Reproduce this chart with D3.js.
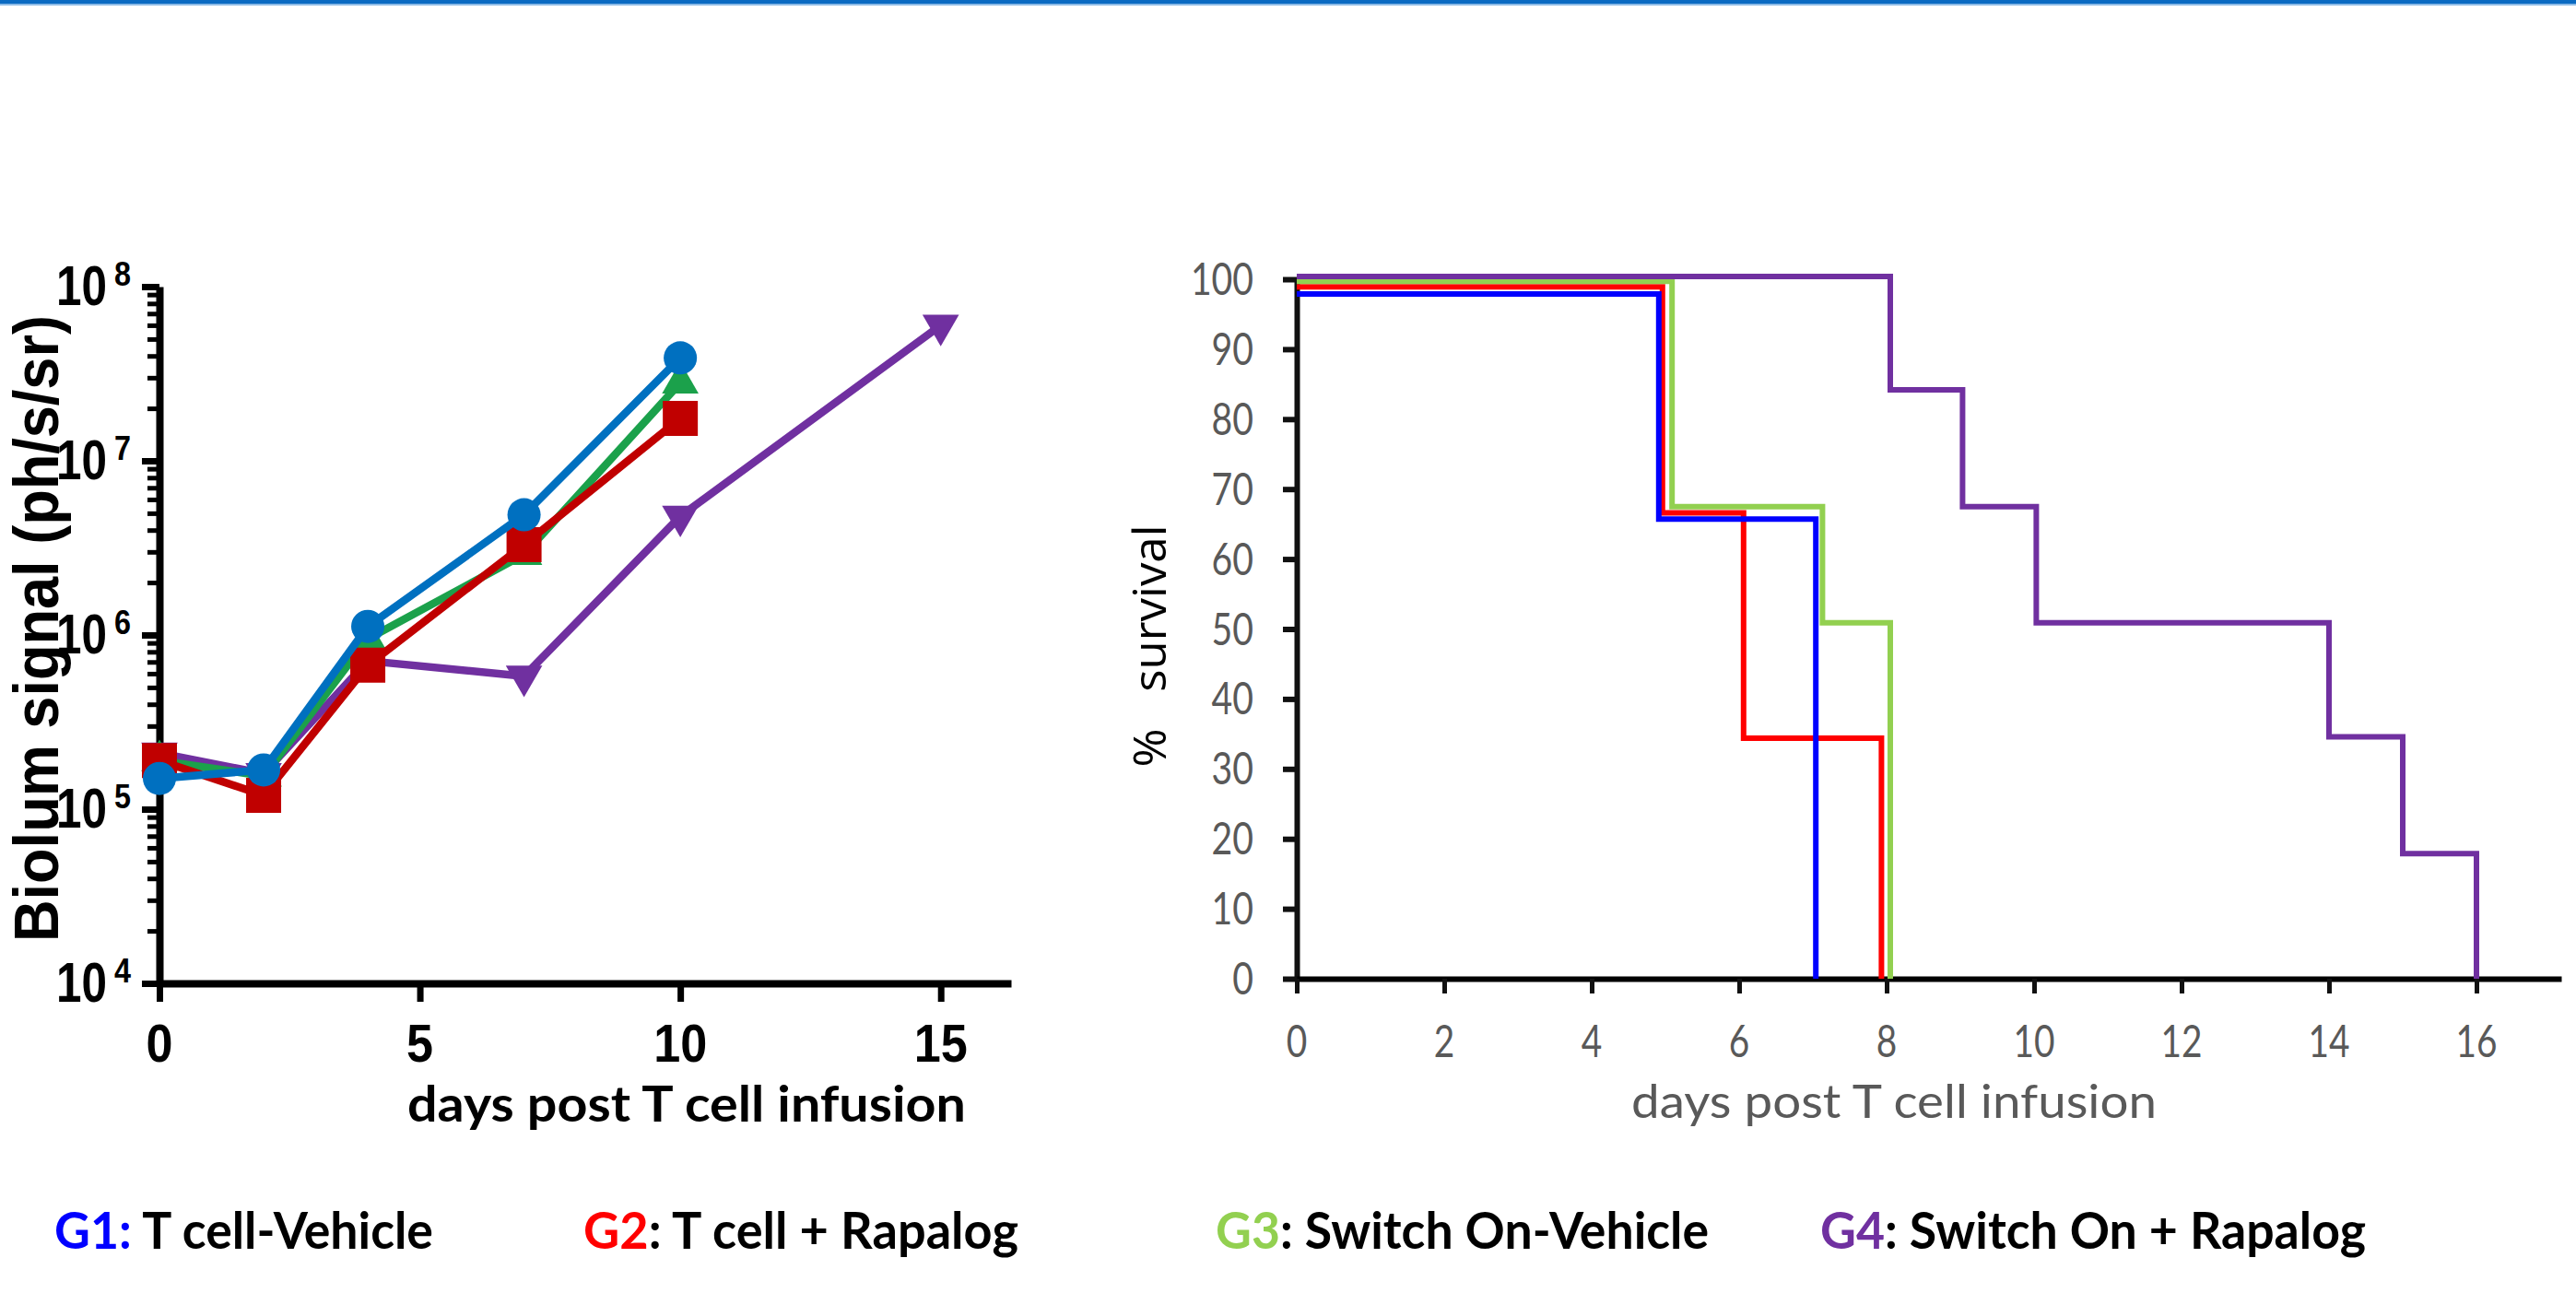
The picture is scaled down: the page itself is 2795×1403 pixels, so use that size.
<!DOCTYPE html>
<html><head><meta charset="utf-8">
<script src="https://cdn.jsdelivr.net/npm/d3@7"></script>
<style>html,body{margin:0;padding:0;background:#fff;} svg{display:block}</style>
</head><body>
<svg id="c" width="2795" height="1403"></svg>
<script>
// ---------- DATA ----------
// Left panel: bioluminescence (ph/s/sr) vs days
const biolumDays   = [0, 2, 4, 7, 10];
const g4BiolumDays = [0, 2, 4, 7, 10, 15];
const g1Biolum = [1.5e5, 1.68e5, 1.12e6, 4.9e6, 3.9e7];
const g2Biolum = [1.9e5, 1.2e5, 6.7e5, 3.3e6, 1.75e7];
const g3Biolum = [1.9e5, 1.55e5, 9.5e5, 2.9e6, 2.8e7];
const g4Biolum = [2.1e5, 1.6e5, 7.1e5, 5.8e5, 4.8e6, 6.0e7];
const biolumXTicks = [0, 5, 10, 15];
const biolumYMajor = [1e4, 1e5, 1e6, 1e7, 1e8];

// Right panel: % survival step curves (event day, survival after)
const g1SurvDays = [0, 4.91, 7.04];
const g1Surv     = [97.9, 65.7, 0];
const g2SurvDays = [0, 4.96, 6.06, 7.93];
const g2Surv     = [98.9, 66.6, 34.4, 0];
const g3SurvDays = [0, 5.09, 7.13, 8.05];
const g3Surv     = [99.7, 67.5, 50.9, 0];
const g4SurvDays = [0, 8.05, 9.03, 10.03, 14.0, 15.0, 16.0];
const g4Surv     = [100.4, 84.2, 67.5, 50.9, 34.6, 17.9, 0];
const survXTicks = [0, 2, 4, 6, 8, 10, 12, 14, 16];
const survYTicks = [0, 10, 20, 30, 40, 50, 60, 70, 80, 90, 100];

// Legend
const legendIds   = ["G1:", "G2", "G3", "G4"];
const legendTexts = [" T cell-Vehicle", ": T cell + Rapalog", ": Switch On-Vehicle", ": Switch On + Rapalog"];

// ---------- STYLE / LAYOUT ----------
const leftColors  = {g1:"#0070C0", g2:"#C00000", g3:"#1BA14B", g4:"#7030A0"};
const rightColors = {g1:"#0000FF", g2:"#FF0000", g3:"#92D050", g4:"#7030A0"};
const legendColors = ["#0000FF", "#FF0000", "#92D050", "#7030A0"];
const legendX = [59, 633, 1319, 1975];
const legendW = [411, 472, 535, 592];

const svg = d3.select("#c");

// top rule
svg.append("rect").attr("x",0).attr("y",0).attr("width",2795).attr("height",4).attr("fill","#0A6AC2");
svg.append("rect").attr("x",0).attr("y",4).attr("width",2795).attr("height",2).attr("fill","#8DBBE6");

// ================= LEFT PANEL =================
const arial = "'Liberation Sans', Arial, sans-serif";
const xL = d3.scaleLinear().domain([0, 16.35]).range([173, 1097]);
const yL = d3.scaleLog().domain([1e4, 1e8]).range([1067, 311]);

const gyL = svg.append("g").attr("transform","translate(173,0)")
  .call(d3.axisLeft(yL).tickValues(yL.ticks()).tickFormat("").tickSizeOuter(0));
gyL.select(".domain").attr("stroke","#000").attr("stroke-width",8);
gyL.selectAll(".tick line").each(function(d){
  const major = biolumYMajor.some(m => Math.abs(m - d) / m < 1e-9);
  d3.select(this).attr("stroke","#000").attr("x2", major ? -19 : -13).attr("stroke-width", major ? 7 : 5);
});

const gxL = svg.append("g").attr("transform","translate(0,1067)")
  .call(d3.axisBottom(xL).tickValues(biolumXTicks).tickFormat("").tickSize(20).tickSizeOuter(0));
gxL.select(".domain").attr("stroke","#000").attr("stroke-width",8);
gxL.selectAll(".tick line").attr("stroke","#000").attr("stroke-width",7);

// y tick labels 10^n
const yLab = svg.append("g").attr("font-family", arial).attr("font-weight","bold").attr("fill","#000");
biolumYMajor.forEach(v => {
  const yy = yL(v);
  yLab.append("text").attr("x",116).attr("y",yy+20).attr("text-anchor","end")
    .attr("font-size",61).attr("textLength",55).attr("lengthAdjust","spacingAndGlyphs").text("10");
  yLab.append("text").attr("x",124).attr("y",yy-1).attr("text-anchor","start")
    .attr("font-size",37).attr("textLength",18).attr("lengthAdjust","spacingAndGlyphs").text(String(Math.round(Math.log10(v))));
});
// x tick labels
biolumXTicks.forEach(v => {
  const s = String(v);
  yLab.append("text").attr("x",xL(v)).attr("y",1152).attr("text-anchor","middle")
    .attr("font-size",58).attr("textLength",29*s.length).attr("lengthAdjust","spacingAndGlyphs").text(s);
});
// axis titles
svg.append("text").attr("transform","translate(63,682) rotate(-90)").attr("text-anchor","middle")
  .attr("font-family",arial).attr("font-weight","bold").attr("font-size",68)
  .attr("textLength",680).attr("lengthAdjust","spacingAndGlyphs").text("Biolum signal (ph/s/sr)");
svg.append("text").attr("x",442).attr("y",1217)
  .attr("font-family","Lato, 'Open Sans', sans-serif").attr("font-weight","bold").attr("font-size",54)
  .attr("textLength",606).attr("lengthAdjust","spacingAndGlyphs").text("days post T cell infusion");

// series
const lineL = d3.line().x(d => xL(d[0])).y(d => yL(d[1]));
const seriesL = [
  {days:g4BiolumDays, vals:g4Biolum, color:leftColors.g4, sym:d3.symbolTriangle, size:680, rot:180},
  {days:biolumDays,   vals:g3Biolum, color:leftColors.g3, sym:d3.symbolTriangle, size:680, rot:0},
  {days:biolumDays,   vals:g2Biolum, color:leftColors.g2, sym:d3.symbolSquare,   size:1444, rot:0},
  {days:biolumDays,   vals:g1Biolum, color:leftColors.g1, sym:d3.symbolCircle,   size:1020, rot:0}
];
seriesL.forEach(s => {
  const pts = s.days.map((d,i) => [d, s.vals[i]]);
  const g = svg.append("g");
  g.append("path").attr("d", lineL(pts)).attr("fill","none").attr("stroke",s.color)
    .attr("stroke-width",8.5).attr("stroke-linejoin","round");
  g.selectAll("path.m").data(pts).enter().append("path").attr("class","m")
    .attr("d", d3.symbol(s.sym, s.size))
    .attr("transform", d => `translate(${xL(d[0])},${yL(d[1])}) rotate(${s.rot})`)
    .attr("fill", s.color);
});

// ================= RIGHT PANEL =================
const cal = "Lato, 'Open Sans', sans-serif";
const xR = d3.scaleLinear().domain([0, 17.15]).range([1407, 2779]);
const yR = d3.scaleLinear().domain([0, 100]).range([1062, 303]);

const gyR = svg.append("g").attr("transform","translate(1407,0)")
  .call(d3.axisLeft(yR).tickValues(survYTicks).tickFormat("").tickSize(15).tickSizeOuter(0));
gyR.select(".domain").attr("stroke","#111").attr("stroke-width",6);
gyR.selectAll(".tick line").attr("stroke","#111").attr("stroke-width",6);

const gxR = svg.append("g").attr("transform","translate(0,1062)")
  .call(d3.axisBottom(xR).tickValues(survXTicks).tickFormat("").tickSize(16).tickSizeOuter(0));
gxR.select(".domain").attr("stroke","#000").attr("stroke-width",6);
gxR.selectAll(".tick line").attr("stroke","#111").attr("stroke-width",5);

const rLab = svg.append("g").attr("font-family",cal).attr("font-size",49).attr("fill","#595959");
survYTicks.forEach(v => {
  const s = String(v);
  rLab.append("text").attr("x",1360).attr("y",yR(v)+17).attr("text-anchor","end")
    .attr("textLength",22.7*s.length).attr("lengthAdjust","spacingAndGlyphs").text(s);
});
survXTicks.forEach(v => {
  const s = String(v);
  rLab.append("text").attr("x",xR(v)).attr("y",1147).attr("text-anchor","middle")
    .attr("textLength",22.5*s.length).attr("lengthAdjust","spacingAndGlyphs").text(s);
});
svg.append("text").attr("x",1770).attr("y",1213)
  .attr("font-family",cal).attr("font-size",50).attr("fill","#595959")
  .attr("textLength",570).attr("lengthAdjust","spacingAndGlyphs").text("days post T cell infusion");
svg.append("text").attr("transform","translate(1265,701) rotate(-90)").attr("text-anchor","middle")
  .attr("font-family","'Open Sans', sans-serif").attr("font-size",50).attr("fill","#000")
  .style("white-space","pre")
  .attr("textLength",263).attr("lengthAdjust","spacingAndGlyphs").text("%   survival");

const stepR = d3.line().x(d => xR(d[0])).y(d => yR(d[1])).curve(d3.curveStepAfter);
const seriesR = [
  {days:g2SurvDays, vals:g2Surv, color:rightColors.g2},
  {days:g3SurvDays, vals:g3Surv, color:rightColors.g3},
  {days:g1SurvDays, vals:g1Surv, color:rightColors.g1},
  {days:g4SurvDays, vals:g4Surv, color:rightColors.g4}
];
seriesR.forEach(s => {
  const pts = s.days.map((d,i) => [d, s.vals[i]]);
  svg.append("path").attr("d", stepR(pts)).attr("fill","none").attr("stroke",s.color)
    .attr("stroke-width",6).attr("stroke-linejoin","miter");
});

// ================= LEGEND =================
legendIds.forEach((id,i) => {
  const t = svg.append("text").attr("x",legendX[i]).attr("y",1355)
    .attr("font-family",cal).attr("font-weight","bold").attr("font-size",56).attr("fill","#000")
    .style("white-space","pre")
    .attr("textLength",legendW[i]).attr("lengthAdjust","spacingAndGlyphs");
  t.append("tspan").attr("fill",legendColors[i]).text(id);
  t.append("tspan").attr("fill","#000").text(legendTexts[i]);
});
</script>
</body></html>
